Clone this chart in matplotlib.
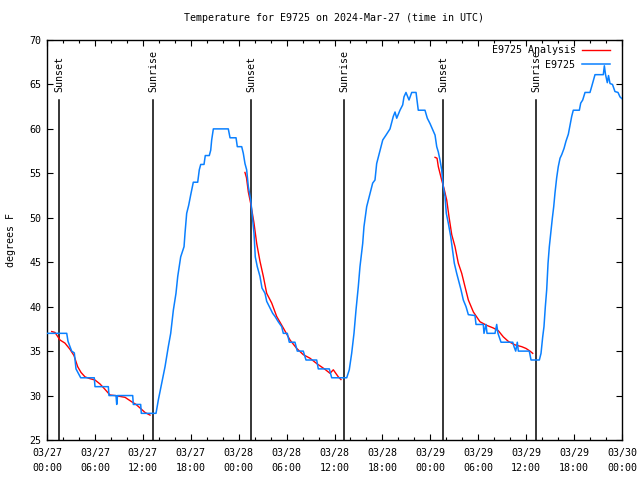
#!/usr/bin/env python3
"""
Temperature for E9725, 2024-Mar-27 (time in UTC)
"""

import matplotlib
matplotlib.use('Agg')
import matplotlib.pyplot as plt
from matplotlib.ticker import MultipleLocator

# hours since 03/27 00:00 UTC
obs_hours = [0.0, 2.47, 2.63, 3.09, 3.42, 3.63, 4.22, 5.92, 6.01, 7.68, 7.76, 8.64, 8.73, 8.83,
             10.73, 10.81, 11.73, 11.81, 13.65, 13.94, 14.36, 14.78, 15.19, 15.49, 15.82, 16.15,
             16.37, 16.74, 17.16, 17.28, 17.49, 17.74, 18.0, 18.32, 18.87, 19.07, 19.25, 19.66,
             19.82, 20.32, 20.5, 20.62, 20.83, 22.7, 22.92, 23.67, 23.83, 24.38, 24.58, 24.79,
             25.0, 25.21, 25.51, 25.76, 25.92, 26.08, 26.33, 26.67, 26.92, 27.3, 27.51, 27.84,
             28.26, 28.55, 28.96, 29.39, 29.59, 30.09, 30.34, 31.05, 31.34, 32.09, 32.43, 33.77,
             33.97, 35.35, 35.65, 37.53, 37.85, 38.15, 38.44, 38.69, 38.98, 39.19, 39.53, 39.69,
             40.03, 40.36, 40.78, 41.07, 41.28, 41.61, 42.04, 42.45, 42.95, 43.36, 43.58, 43.79,
             44.2, 44.54, 44.7, 44.95, 45.33, 45.67, 46.21, 46.49, 47.33, 47.62, 47.96, 48.3,
             48.59, 48.8, 49.0, 49.21, 49.42, 49.62, 49.84, 50.0, 50.25, 50.55, 50.75, 51.0,
             51.3, 51.63, 51.84, 52.13, 52.47, 52.76, 53.59, 53.72, 54.63, 54.72, 54.97, 55.1,
             56.1, 56.31, 56.47, 56.85, 58.32, 58.48, 58.69, 58.89, 59.02, 60.39, 60.61, 61.65,
             61.86, 62.07, 62.23, 62.4, 62.57, 62.74, 62.9, 63.11, 63.27, 63.45, 63.61, 63.82,
             64.02, 64.24, 64.45, 64.74, 64.98, 65.28, 65.49, 65.7, 65.9, 66.66, 66.83, 67.08,
             67.37, 67.99, 68.2, 68.62, 69.66, 69.79, 69.94, 70.16, 70.31, 70.5, 70.81, 71.12,
             71.5, 71.75, 72.0]
obs_temps = [37, 37, 36.1, 35, 34.8, 33, 32, 32, 31, 31, 30, 30, 29, 30,
             30, 29, 29, 28, 28, 29.5, 31.4, 33.25, 35.5, 37, 39.6, 41.5,
             43.4, 45.6, 46.75, 48.25, 50.5, 51.4, 52.6, 54, 54, 55.4, 56, 56,
             57, 57, 57.6, 58.75, 60, 60, 59, 59, 58, 58, 57.25, 56.1,
             55.4, 53.5, 52, 49.75, 48.25, 45.6, 44.5, 43.4, 42.1, 41.5, 40.6, 40,
             39.25, 38.9, 38.3, 37.75, 37, 37, 36, 36, 35, 35, 34, 34,
             33, 33, 32, 32, 32.9, 34.75, 37, 39.6, 42.25, 44.5, 47.1, 49,
             51.25, 52.4, 53.9, 54.25, 56.1, 57.25, 58.75, 59.3, 60, 61.4, 61.9, 61.2,
             62.1, 62.7, 63.6, 64.1, 63.25, 64.1, 64.1, 62.1, 62.1, 61.2, 60.6, 59.9,
             59.3, 58, 57.4, 56.5, 55.4, 53.5, 52.4, 50.5, 49.4, 47.9, 46.6, 44.9,
             43.75, 42.6, 41.9, 40.75, 40, 39.1, 39, 38, 38, 37, 38, 37,
             37, 38, 37, 36, 36, 35.5, 35, 36, 35, 35, 34, 34,
             34.75, 36.6, 37.75, 40, 41.9, 44.9, 46.75, 48.6, 49.9, 51.25, 52.8, 54.5,
             55.75, 56.7, 57.1, 57.8, 58.6, 59.4, 60.4, 61.4, 62.1, 62.1, 62.9, 63.25,
             64.1, 64.1, 64.75, 66.1, 66.1, 67.1, 66.1, 65.2, 66, 65.1, 65, 64.2,
             64.1, 63.6, 63.4]

# analysis runs, one per night
ana1_hours = [0.59, 1.0, 1.63, 2.25, 2.88, 3.38, 3.84, 4.26, 4.76, 5.38, 6.01, 6.64, 7.26,
              7.89, 8.52, 9.14, 9.77, 10.61, 11.15, 11.65, 12.27, 12.9]
ana1_temps = [37.2, 37.1, 36.25, 35.9, 35.2, 34.5, 33.25, 32.6, 32.1, 31.9, 31.75, 31.3, 30.7,
              30.06, 30.0, 29.9, 29.8, 29.3, 29.0, 28.6, 28.1, 27.8]
ana2_hours = [24.79, 24.98, 25.21, 25.51, 25.92, 26.26, 26.67, 27.09, 27.51, 28.14, 28.76,
              29.59, 30.43, 31.27, 32.09, 32.93, 33.77, 34.81, 35.44, 35.85, 36.48, 36.81]
ana2_temps = [55.1, 54.5, 52.9, 51.6, 49.4, 47.1, 45.1, 43.4, 41.5, 40.4, 38.9,
              37.6, 36.25, 35.3, 34.6, 34.2, 33.6, 32.95, 32.5, 32.9, 32.1, 31.8]
ana3_hours = [48.59, 48.84, 49.0, 49.42, 49.71, 50.05, 50.34, 50.68, 51.09, 51.5, 51.93, 52.34,
              52.76, 53.39, 54.22, 55.06, 55.89, 56.51, 57.14, 57.76, 58.6, 59.44, 59.98,
              60.48, 60.82]
ana3_temps = [56.8, 56.7, 55.75, 54.25, 53.3, 52.0, 50.1, 48.1, 46.75, 44.9, 43.75, 42.25,
              40.75, 39.4, 38.3, 37.9, 37.6, 37.3, 36.6, 36.1, 35.7, 35.5, 35.3,
              35.0, 34.75]

sun_hours = [1.55, 13.3, 25.58, 37.23, 49.62, 61.27]
sun_labels = ['Sunset', 'Sunrise', 'Sunset', 'Sunrise', 'Sunset', 'Sunrise']

xtick_hours = list(range(0, 73, 6))
xtick_labels = ['03/27\n00:00', '03/27\n06:00', '03/27\n12:00', '03/27\n18:00',
                '03/28\n00:00', '03/28\n06:00', '03/28\n12:00', '03/28\n18:00',
                '03/29\n00:00', '03/29\n06:00', '03/29\n12:00', '03/29\n18:00',
                '03/30\n00:00']

plt.rcParams['font.family'] = 'DejaVu Sans Mono'
plt.rcParams['font.size'] = 7.2

fig = plt.figure(figsize=(6.4, 4.8), dpi=100)
ax = fig.add_axes([47 / 640, 40 / 480, 575 / 640, 400 / 480])

red = '#ff0000'
blue = '#0a80ff'

ax.plot(ana1_hours, ana1_temps, color=red, lw=1.0, label='E9725 Analysis', zorder=3)
ax.plot(ana2_hours, ana2_temps, color=red, lw=1.0, zorder=3)
ax.plot(ana3_hours, ana3_temps, color=red, lw=1.0, zorder=3)
ax.plot(obs_hours, obs_temps, color=blue, lw=1.1, label='E9725', zorder=4)

for h, lab in zip(sun_hours, sun_labels):
    ax.plot([h, h], [25, 63.2], color='black', lw=1.1, zorder=2)
    ax.text(h, 64.1, lab, rotation=90, ha='center', va='bottom')

ax.set_xlim(0, 72)
ax.set_ylim(25, 70)
ax.set_xticks(xtick_hours)
ax.set_xticklabels(xtick_labels, linespacing=1.55)
ax.xaxis.set_minor_locator(MultipleLocator(2))
ax.set_yticks(range(25, 71, 5))
ax.tick_params(which='both', direction='in', top=True, right=True, width=0.8)
ax.tick_params(which='major', length=4.5, pad=4)
ax.tick_params(axis='x', which='major', pad=6)
ax.tick_params(which='minor', length=2.5)
for s in ax.spines.values():
    s.set_linewidth(1.0)

ax.set_ylabel('degrees F', labelpad=10)
ax.set_title('Temperature for E9725 on 2024-Mar-27 (time in UTC)', pad=14, fontsize=7.2)

ax.legend(loc='upper right', bbox_to_anchor=(610 / 640, 1 - 45 / 480),
          bbox_transform=fig.transFigure, frameon=False, markerfirst=False,
          handlelength=2.8, borderpad=0, borderaxespad=0, labelspacing=0.45,
          handletextpad=0.65)

fig.savefig('out.png', dpi=100)
